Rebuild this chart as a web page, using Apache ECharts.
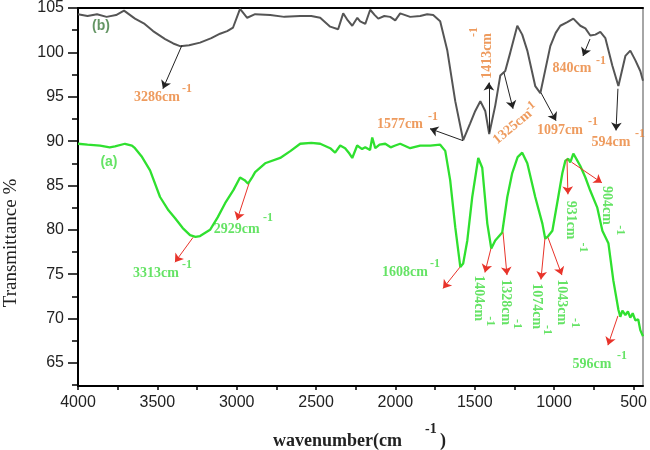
<!DOCTYPE html>
<html><head><meta charset="utf-8">
<script src="https://cdn.jsdelivr.net/npm/echarts@6/dist/echarts.min.js"></script>
<style>html,body{margin:0;padding:0;background:#fff}#c{width:650px;height:450px}</style>
</head><body><div id="c"></div>
<script>
// ---- data ----
const xTickLabels = [500, 1000, 1500, 2000, 2500, 3000, 3500, 4000];
const xTicks = [500, 750, 1000, 1250, 1500, 1750, 2000, 2250, 2500, 2750, 3000, 3250, 3500, 3750, 4000];
const yTickLabels = [65, 70, 75, 80, 85, 90, 95, 100, 105];
const yMinorTicks = [62.5, 67.5, 72.5, 77.5, 82.5, 87.5, 92.5, 97.5, 102.5];

// curve (b): [wavenumber, transmittance]
const spectrumB = [[4000,104.3],[3940,104.1],[3880,104.3],[3820,104.0],[3760,104.2],[3710,104.7],[3641,103.8],[3580,103.2],[3527,102.4],[3451,101.5],[3400,101.0],[3357,100.7],[3300,100.8],[3231,101.1],[3160,101.6],[3105,102.1],[3060,102.4],[3023,102.8],[2979,104.9],[2934,103.9],[2884,104.3],[2789,104.2],[2700,104.0],[2600,104.1],[2530,104.1],[2474,103.9],[2411,102.9],[2361,102.6],[2329,104.4],[2300,103.6],[2272,103.0],[2240,103.9],[2222,103.5],[2190,103.2],[2159,104.8],[2130,104.2],[2108,103.8],[2070,104.1],[2033,104.0],[2001,103.6],[1970,104.4],[1907,104.0],[1844,104.1],[1800,104.3],[1762,104.2],[1718,103.5],[1673,100.2],[1623,94.5],[1573,90.1],[1529,92.0],[1497,93.4],[1465,94.5],[1434,93.4],[1409,90.8],[1371,94.0],[1339,97.4],[1308,97.9],[1276,100.0],[1232,103.0],[1201,102.0],[1169,100.2],[1119,96.2],[1087,95.4],[1056,98.0],[1024,100.7],[990,102.2],[961,103.0],[917,103.4],[879,103.8],[835,103.0],[803,102.7],[772,101.9],[740,102.0],[709,102.3],[677,101.6],[633,98.5],[595,96.2],[551,99.6],[520,100.2],[488,99.1],[457,97.9],[440,96.8]];

// curve (a): [wavenumber, transmittance]
const spectrumA = [[4000,89.7],[3940,89.6],[3861,89.5],[3800,89.3],[3767,89.4],[3704,89.7],[3660,89.5],[3641,89.2],[3600,88.3],[3546,86.7],[3483,83.7],[3430,82.2],[3388,81.3],[3340,80.2],[3294,79.4],[3260,79.2],[3231,79.3],[3168,80.0],[3120,81.4],[3073,83.0],[3020,84.5],[2979,85.9],[2950,85.6],[2928,85.2],[2900,86.0],[2884,86.5],[2821,87.5],[2726,88.1],[2660,88.9],[2600,89.7],[2530,89.8],[2474,89.7],[2411,89.2],[2380,88.7],[2348,89.5],[2317,89.2],[2290,88.6],[2272,88.1],[2241,89.5],[2210,89.1],[2190,89.3],[2160,89.0],[2146,90.4],[2127,89.2],[2100,89.6],[2064,89.7],[2030,89.3],[2001,89.5],[1970,89.7],[1907,89.2],[1844,89.5],[1780,89.5],[1718,89.6],[1686,88.9],[1655,85.6],[1623,80.3],[1591,75.8],[1573,76.2],[1547,78.8],[1516,83.7],[1478,88.1],[1453,87.0],[1421,80.7],[1396,77.9],[1371,78.8],[1327,79.7],[1295,83.7],[1264,86.4],[1230,88.2],[1201,88.7],[1169,87.5],[1119,83.7],[1074,80.7],[1056,79.0],[1037,79.3],[1011,79.9],[974,83.7],[948,86.4],[929,87.8],[911,88.0],[898,87.6],[879,88.6],[860,88.0],[835,87.2],[803,85.9],[772,84.4],[728,82.5],[696,79.9],[658,78.5],[627,74.3],[595,71.0],[583,70.2],[570,70.9],[551,70.4],[535,70.8],[520,70.1],[505,70.6],[488,69.8],[470,69.9],[457,68.7],[440,68.0]];

// peak annotations: text, peak point, arrow head, label centre, superscript centre, rotation
const annotationsB = [
  {text:'3286cm', peak:[3345,100.8], head:[3465,95.9], at:[3502,94.9], sup:[3313,95.9], rot:0},
  {text:'1577cm', peak:[1574,90.05], head:[1782,91.4], at:[1971,91.85], sup:[1763,92.75], rot:0},
  {text:'1413cm', peak:[1411,91.0], head:[1411,96.6], at:[1423,99.6], sup:[1505,102.3], rot:90},
  {text:'1325cm', peak:[1316,97.7], head:[1259,93.65], at:[1262,91.6], sup:[1152,93.9], rot:40},
  {text:'1097cm', peak:[1083,95.45], head:[988,92.3], at:[963,91.2], sup:[755,92.2], rot:0},
  {text:'840cm', peak:[774,101.5], head:[818,99.6], at:[888,98.15], sup:[705,99.05], rot:0},
  {text:'594cm', peak:[598,95.9], head:[610,91.2], at:[642,89.8], sup:[459,90.8], rot:0}
];
const annotationsA = [
  {text:'3313cm', peak:[3275,79.15], head:[3389,76.35], at:[3509,75.1], sup:[3313,76.0], rot:0},
  {text:'2929cm', peak:[2923,85.2], head:[2998,81.1], at:[3000,80.05], sup:[2803,81.3], rot:0},
  {text:'1608cm', peak:[1593,75.8], head:[1700,73.4], at:[1940,75.2], sup:[1751,76.2], rot:0},
  {text:'1404cm', peak:[1398,77.9], head:[1436,75.2], at:[1474,72.3], sup:[1404,69.7], rot:-90},
  {text:'1328cm', peak:[1322,79.7], head:[1297,74.9], at:[1304,71.85], sup:[1234,69.4], rot:-90},
  {text:'1074cm', peak:[1058,79.0], head:[1083,74.4], at:[1108,71.4], sup:[1045,68.7], rot:-90},
  {text:'1043cm', peak:[1039,79.15], head:[951,74.9], at:[951,71.85], sup:[869,69.5], rot:-90},
  {text:'931cm', peak:[919,88.0], head:[913,84.0], at:[894,81.1], sup:[818,78.0], rot:-90},
  {text:'904cm', peak:[888,87.6], head:[699,85.3], at:[667,82.75], sup:[585,79.95], rot:-90},
  {text:'596cm', peak:[598,70.3], head:[661,67.0], at:[762,64.8], sup:[573,65.8], rot:0}
];

// ---- styles ----
const colorB = '#555555', colorA = '#2fe02f';
const textB = '#ea8236', textA = '#3fdc3f';
const arrowB = '#222222', arrowA = '#e8332a';
const serif = "'Liberation Serif', 'DejaVu Serif', serif";
const sans = "'Liberation Sans', Arial, sans-serif";

function arrows(list, color) {
  return {
    silent: true, animation: false,
    symbol: ['none', 'arrow'], symbolSize: 8,
    label: {show: false},
    lineStyle: {color: color, width: 1, type: 'solid'},
    itemStyle: {color: color},
    emphasis: {disabled: true},
    data: list.map(a => [{coord: a.peak}, {coord: a.head}])
  };
}
function labelItems(list, color) {
  const out = [];
  list.forEach(a => {
    out.push({name: a.text, value: a.at, label: {rotate: a.rot, color: color, fontSize: 14}});
    out.push({name: '-1', value: a.sup, label: {rotate: a.rot, color: color, fontSize: 12}});
  });
  return out;
}

const chart = echarts.init(document.getElementById('c'), null, {renderer: 'canvas'});
chart.setOption({
  animation: false,
  backgroundColor: '#ffffff',
  grid: {left: 78, right: 7, top: 7, bottom: 64, containLabel: false},
  xAxis: [{
    type: 'value', inverse: true, min: 440, max: 4000,
    axisLine: {show: true, onZero: false, lineStyle: {color: '#000', width: 2}},
    axisTick: {show: true, customValues: xTicks, length: 4, lineStyle: {color: '#000', width: 1.5}},
    axisLabel: {customValues: xTickLabels, formatter: v => String(v), fontSize: 16, color: '#222', fontFamily: sans, margin: 9},
    splitLine: {show: false}
  }, {
    type: 'value', inverse: true, min: 440, max: 4000, position: 'top',
    axisLine: {show: true, onZero: false, lineStyle: {color: '#000', width: 2}},
    axisTick: {show: false}, axisLabel: {show: false}, splitLine: {show: false}
  }],
  yAxis: [{
    type: 'value', min: 62.4, max: 105,
    axisLine: {show: true, onZero: false, lineStyle: {color: '#000', width: 2}},
    axisTick: {show: true, customValues: yTickLabels, length: 10, lineStyle: {color: '#000', width: 1.5}},
    axisLabel: {customValues: yTickLabels, formatter: v => String(v), fontSize: 16, color: '#222', fontFamily: sans, margin: 14},
    splitLine: {show: false}
  }, {
    type: 'value', min: 62.4, max: 105, position: 'left',
    axisLine: {show: false},
    axisTick: {show: true, customValues: yMinorTicks, length: 6, lineStyle: {color: '#000', width: 1.5}},
    axisLabel: {show: false}, splitLine: {show: false}
  }, {
    type: 'value', min: 62.4, max: 105, position: 'right',
    axisLine: {show: true, onZero: false, lineStyle: {color: '#888', width: 1.5}},
    axisTick: {show: false}, axisLabel: {show: false}, splitLine: {show: false}
  }],
  series: [{
    name: '(b)', type: 'line', data: spectrumB, showSymbol: false, silent: true,
    lineStyle: {color: colorB, width: 2},
    markLine: arrows(annotationsB, arrowB)
  }, {
    name: '(a)', type: 'line', data: spectrumA, showSymbol: false, silent: true,
    lineStyle: {color: colorA, width: 2.3},
    markLine: arrows(annotationsA, arrowA)
  }, {
    name: 'labelsB', type: 'scatter', symbolSize: 1, silent: true,
    itemStyle: {color: 'rgba(0,0,0,0)'},
    label: {show: true, position: 'inside', formatter: '{b}', fontFamily: serif, fontWeight: 'bold'},
    data: labelItems(annotationsB, textB)
  }, {
    name: 'labelsA', type: 'scatter', symbolSize: 1, silent: true,
    itemStyle: {color: 'rgba(0,0,0,0)'},
    label: {show: true, position: 'inside', formatter: '{b}', fontFamily: serif, fontWeight: 'bold'},
    data: labelItems(annotationsA, textA)
  }, {
    name: 'curveNames', type: 'scatter', symbolSize: 1, silent: true,
    itemStyle: {color: 'rgba(0,0,0,0)'},
    label: {show: true, position: 'inside', formatter: '{b}', fontFamily: sans, fontWeight: 'bold', fontSize: 14},
    data: [
      {name: '(b)', value: [3855, 103.0], label: {color: '#3d7a3d'}},
      {name: '(a)', value: [3805, 87.6], label: {color: textA}}
    ]
  }],
  graphic: [
    {type: 'text', x: 11, y: 243, rotation: Math.PI / 2,
     style: {text: 'Transmittance %', font: '19px ' + serif, fill: '#222', align: 'center', verticalAlign: 'middle'}},
    {type: 'text', x: 273, y: 441,
     style: {text: 'wavenumber(cm', font: 'bold 18px ' + serif, fill: '#222', align: 'left', verticalAlign: 'middle'}},
    {type: 'text', x: 425, y: 429,
     style: {text: '-1', font: 'bold 14px ' + serif, fill: '#222', align: 'left', verticalAlign: 'middle'}},
    {type: 'text', x: 440, y: 441,
     style: {text: ')', font: 'bold 18px ' + serif, fill: '#222', align: 'left', verticalAlign: 'middle'}}
  ]
});
</script>
</body></html>
